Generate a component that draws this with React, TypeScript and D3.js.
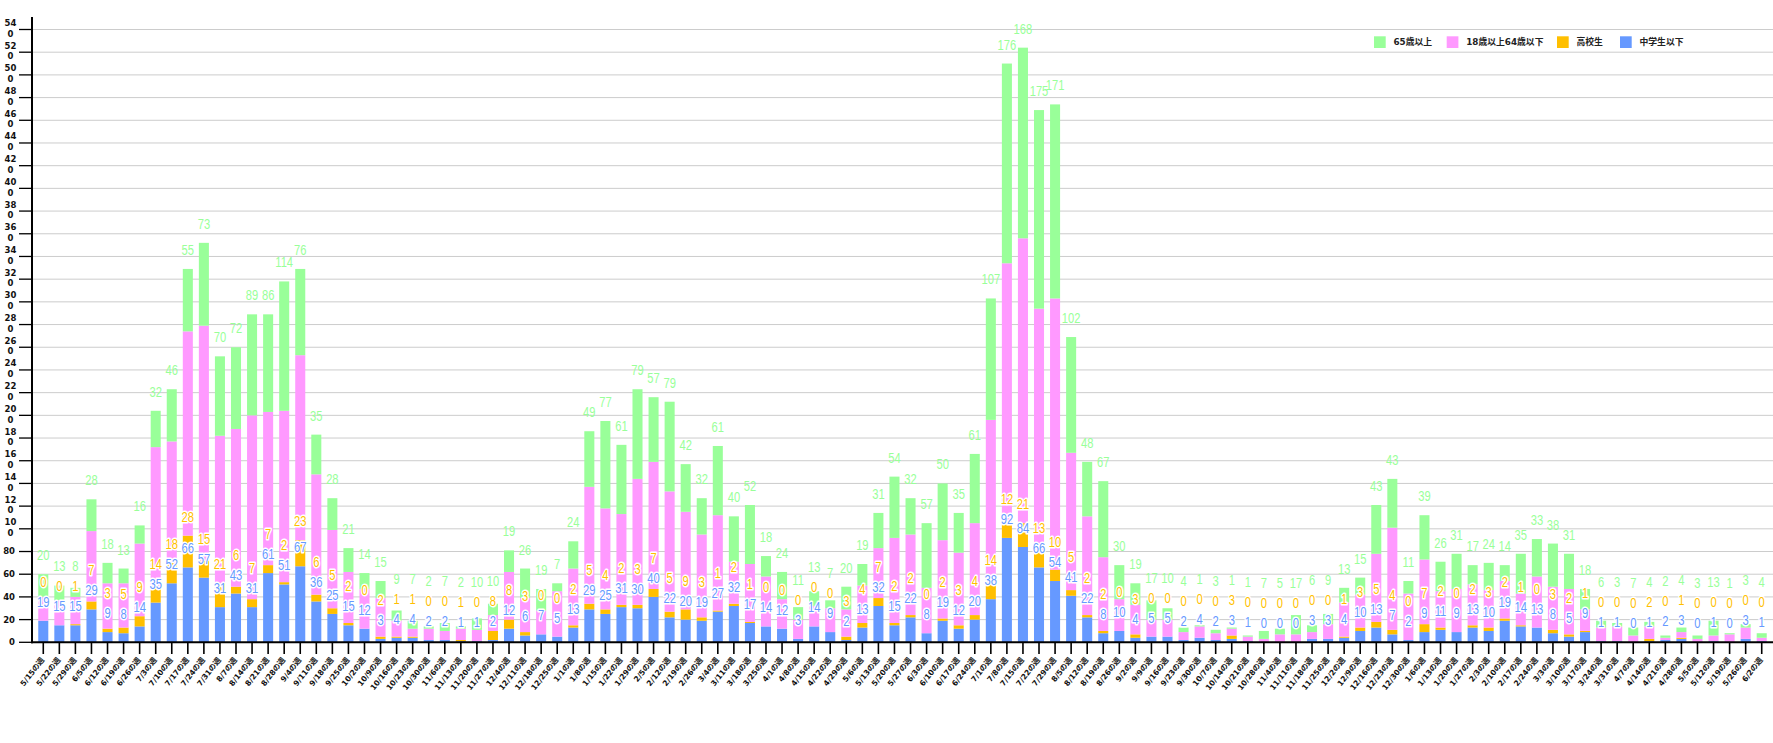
import React from "react";
import * as d3 from "d3";

const weeks = [
  "5/15の週","5/22の週","5/29の週","6/5の週","6/12の週","6/19の週","6/26の週","7/3の週","7/10の週","7/17の週",
  "7/24の週","7/31の週","8/7の週","8/14の週","8/21の週","8/28の週","9/4の週","9/11の週","9/18の週","9/25の週",
  "10/2の週","10/9の週","10/16の週","10/23の週","10/30の週","11/6の週","11/13の週","11/20の週","11/27の週","12/4の週",
  "12/11の週","12/18の週","12/25の週","1/1の週","1/8の週","1/15の週","1/22の週","1/29の週","2/5の週","2/12の週",
  "2/19の週","2/26の週","3/4の週","3/11の週","3/18の週","3/25の週","4/1の週","4/8の週","4/15の週","4/22の週",
  "4/29の週","5/6の週","5/13の週","5/20の週","5/27の週","6/3の週","6/10の週","6/17の週","6/24の週","7/1の週",
  "7/8の週","7/15の週","7/22の週","7/29の週","8/5の週","8/12の週","8/19の週","8/26の週","9/2の週","9/9の週",
  "9/16の週","9/23の週","9/30の週","10/7の週","10/14の週","10/21の週","10/28の週","11/4の週","11/11の週","11/18の週",
  "11/25の週","12/2の週","12/9の週","12/16の週","12/23の週","12/30の週","1/6の週","1/13の週","1/20の週","1/27の週",
  "2/3の週","2/10の週","2/17の週","2/24の週","3/3の週","3/10の週","3/17の週","3/24の週","3/31の週","4/7の週",
  "4/14の週","4/21の週","4/28の週","5/5の週","5/12の週","5/19の週","5/26の週","6/2の週"
];

// 中学生以下
const juniorHigh = [
  19,15,15,29,9,8,14,35,52,66,57,31,43,31,61,51,67,36,25,
  15,12,3,4,4,2,2,1,1,2,12,6,7,5,13,29,25,31,30,
  40,22,20,19,27,32,17,14,12,3,14,9,2,13,32,15,22,8,
  19,12,20,38,92,84,66,54,41,22,8,10,4,5,5,2,4,2,3,
  1,0,0,0,3,3,4,10,13,7,2,9,11,9,13,10,19,
  14,13,8,5,9,1,1,0,1,2,3,0,1,0,3,1
];

// 高校生
const highSchool = [
  0,0,1,7,3,5,9,14,18,28,15,21,6,7,7,2,23,6,5,
  2,0,2,1,1,0,0,1,0,8,8,3,0,0,2,5,4,2,3,
  7,5,9,3,1,2,1,0,0,0,0,0,3,4,7,2,2,0,
  2,3,4,14,12,21,13,10,5,2,2,0,3,0,0,0,0,0,3,
  0,0,0,0,0,0,1,3,5,4,0,7,2,0,2,3,2,
  1,0,3,2,1,0,0,0,2,0,1,0,0,0,0,0
];

// 18歳以上64歳以下
const adults = [
  21,22,24,62,40,39,64,123,107,180,207,130,139,162,135,151,163,106,69,
  45,35,34,14,7,10,8,10,10,14,42,30,21,40,50,103,89,80,111,
  112,106,86,73,84,37,51,44,26,17,18,21,24,33,44,75,71,40,
  69,64,81,144,230,251,215,239,121,87,65,28,26,15,15,7,10,6,6,
  4,3,7,7,6,13,30,29,60,90,41,57,32,38,36,33,33,
  28,45,38,40,19,12,13,6,11,2,5,3,5,7,10,3
];

// 65歳以上
const seniors = [
  20,13,8,28,18,13,16,32,46,55,73,70,72,89,86,114,76,35,28,
  21,14,15,9,7,2,7,2,10,10,19,26,19,7,24,49,77,61,79,
  57,79,42,32,61,40,52,18,24,11,13,7,20,19,31,54,32,57,
  50,35,61,107,176,168,175,171,102,48,67,30,19,17,10,4,1,3,1,
  1,7,5,17,6,9,13,15,43,43,11,39,26,31,17,24,14,
  35,33,38,31,18,6,3,7,4,2,4,3,13,1,3,4
];

const yTickValues = [0,20,40,60,80,100,120,140,160,180,200,220,240,260,280,300,320,340,360,380,400,420,440,460,480,500,520,540];

const seriesKeys = ["junior", "high", "adult", "senior"];
const seriesColors: Record<string, string> = {
  junior: "#6699ff",
  high: "#ffbf00",
  adult: "#ff99ff",
  senior: "#99ff99",
};
const legendLabels: Record<string, string> = {
  senior: "65歳以上",
  adult: "18歳以上64歳以下",
  high: "高校生",
  junior: "中学生以下",
};
const legendOrder = ["senior", "adult", "high", "junior"];

export default function App() {
  const W = 1773;
  const H = 743;
  const left = 32;
  const baseY = 642.3;
  const topY = 29.5;

  const rows = weeks.map((w, i) => ({
    i,
    junior: juniorHigh[i],
    high: highSchool[i],
    adult: adults[i],
    senior: seniors[i],
  }));

  const x = d3
    .scaleBand<number>()
    .domain(rows.map((r) => r.i))
    .range([left, W])
    .paddingInner(0.375)
    .paddingOuter(0.39);

  const y = d3.scaleLinear().domain([0, 540]).range([baseY, topY]);

  const stacked = d3.stack<any>().keys(seriesKeys)(rows as any);

  const labelFont = "'Liberation Sans', Arial, sans-serif";
  const smallFont = "'DejaVu Sans', 'Noto Sans CJK JP', sans-serif";

  const legendX = [1374, 1446.7, 1557, 1620];

  return (
    <svg
      width={W}
      height={H}
      style={{ position: "absolute", left: 0, top: 0, background: "#fff" }}
    >
      {/* gridlines */}
      {yTickValues
        .filter((t) => t > 0)
        .map((t) => (
          <line key={"g" + t} x1={left} x2={W} y1={y(t)} y2={y(t)} stroke="#cccccc" strokeWidth={1} />
        ))}

      {/* y ticks & labels */}
      {yTickValues.map((t) => {
        const s = String(t);
        const ty = y(t);
        return (
          <g key={"yt" + t}>
            <line x1={19} x2={left} y1={ty} y2={ty} stroke="#000" strokeWidth={1.3} />
            {s.length < 3 ? (
              <text
                x={15}
                y={ty}
                dy="0.35em"
                textAnchor="end"
                fontFamily={smallFont}
                fontWeight="bold"
                fontSize={8.5}
                fill="#111"
              >
                {s}
              </text>
            ) : (
              <text
                textAnchor="middle"
                fontFamily={smallFont}
                fontWeight="bold"
                fontSize={8.5}
                fill="#111"
              >
                <tspan x={10.5} y={ty - 6.5} dy="0.35em">{s.slice(0, 2)}</tspan>
                <tspan x={10.5} y={ty + 4.2} dy="0.35em">{s.slice(2)}</tspan>
              </text>
            )}
          </g>
        );
      })}

      {/* bars */}
      {stacked.map((layer) => (
        <g key={layer.key} fill={seriesColors[layer.key]}>
          {layer.map((d: any, i: number) => {
            const h = y(d[0]) - y(d[1]);
            if (h <= 0) return null;
            return (
              <rect
                key={i}
                x={x(i)}
                width={x.bandwidth()}
                y={y(d[1])}
                height={h}
              />
            );
          })}
        </g>
      ))}

      {/* axes */}
      <line x1={left} x2={left} y1={17} y2={baseY + 1} stroke="#000" strokeWidth={2} />
      <line x1={left - 1} x2={W} y1={baseY} y2={baseY} stroke="#000" strokeWidth={2} />

      {/* x ticks and labels */}
      {rows.map((r) => {
        const cx = (x(r.i) as number) + x.bandwidth() / 2;
        return (
          <g key={"xt" + r.i}>
            <line x1={cx} x2={cx} y1={baseY} y2={654} stroke="#000" strokeWidth={1.6} />
            <text
              transform={`translate(${cx + 1.5},${660}) rotate(-52)`}
              textAnchor="end"
              fontFamily={smallFont}
              fontWeight="bold"
              fontSize={7.6}
              fill="#111"
            >
              {weeks[r.i]}
            </text>
          </g>
        );
      })}

      {/* value labels */}
      {rows.map((r) => {
        const cx = (x(r.i) as number) + x.bandwidth() / 2;
        const bTop = y(r.junior);
        const oTop = y(r.junior + r.high);
        const gTop = y(r.junior + r.high + r.adult + r.senior);
        const cb = bTop - 19;
        const co = Math.min(oTop - 19, cb - 20);
        const cg = Math.min(gTop - 19, co - 20);
        const items = [
          { c: cb, v: r.junior, col: seriesColors.junior, k: "b" },
          { c: co, v: r.high, col: seriesColors.high, k: "o" },
          { c: cg, v: r.senior, col: seriesColors.senior, k: "g" },
        ];
        return (
          <g key={"vl" + r.i}>
            {items.map((it) => (
              <text
                key={it.k}
                transform={`translate(${cx},${it.c + 5}) scale(0.8,1)`}
                textAnchor="middle"
                fontFamily={labelFont}
                fontSize={14}
                fill={it.col}
                stroke="#fff"
                strokeWidth={it.k === "g" ? 0 : 3}
                strokeLinejoin="round"
                paintOrder="stroke"
              >
                {it.v}
              </text>
            ))}
          </g>
        );
      })}

      {/* legend */}
      {legendOrder.map((k, j) => (
        <g key={"lg" + k}>
          <rect x={legendX[j]} y={36.3} width={11.7} height={11.7} fill={seriesColors[k]} />
          <text
            x={legendX[j] + 19.5}
            y={42.3}
            dy="0.35em"
            fontFamily={smallFont}
            fontWeight="bold"
            fontSize={8.8}
            fill="#222"
          >
            {legendLabels[k]}
          </text>
        </g>
      ))}
    </svg>
  );
}
